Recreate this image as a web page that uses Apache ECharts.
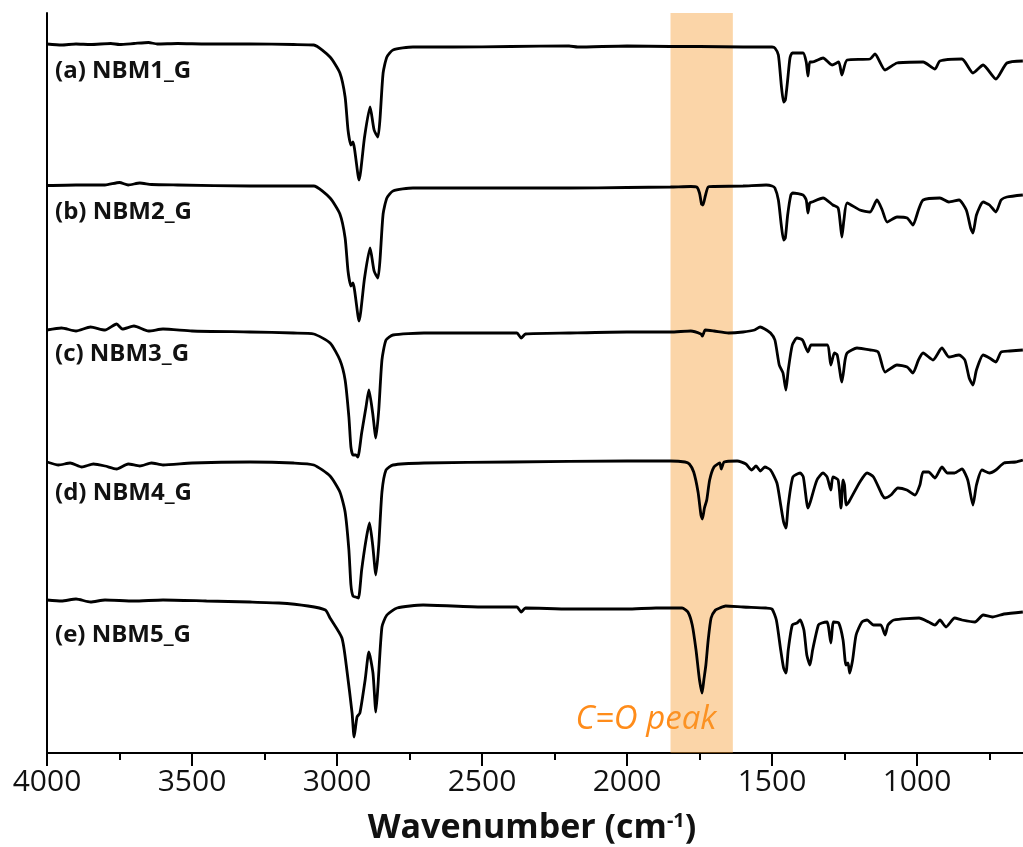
<!DOCTYPE html>
<html>
<head>
<meta charset="utf-8">
<script src="https://cdn.jsdelivr.net/npm/echarts@6/dist/echarts.min.js"></script>
<style>html,body{margin:0;padding:0;background:#fff}#c{width:1023px;height:847px}</style>
</head>
<body>
<div id="c"></div>
<script>
// Sample names
const sampleNames = ['(a) NBM1_G', '(b) NBM2_G', '(c) NBM3_G', '(d) NBM4_G', '(e) NBM5_G'];
// X axis ticks (wavenumber, cm-1)
const xTicks = [4000, 3500, 3000, 2500, 2000, 1500, 1000];
// C=O band (cm-1)
const coBand = [1850, 1635];
const coLabel = 'C=O peak';

// Spectra: [wavenumber (cm-1), transmittance (a.u., stacked)]
const specA = [[4000,70.9],[3950,70.8],[3900,70.9],[3850,70.85],[3780,70.95],[3750,70.85],[3700,70.95],[3650,71.05],[3620,70.9],[3550,70.95],[3450,70.9],[3300,70.9],[3150,70.85],[3080,70.8],[3024,69.6],[2990,68.0],[2972,65.6],[2962,62.3],[2952,60.8],[2945,61.1],[2924,57.3],[2905,61.6],[2886,64.6],[2872,62.3],[2859,61.6],[2852,63.3],[2841,68.0],[2828,69.6],[2807,70.3],[2738,70.6],[2600,70.6],[2400,70.65],[2200,70.7],[2170,70.6],[2000,70.7],[1850,70.65],[1750,70.65],[1600,70.6],[1500,70.6],[1490,70.5],[1478,69.8],[1468,66.8],[1460,65.1],[1454,65.3],[1446,67.3],[1438,69.5],[1430,70.0],[1393,70.0],[1382,69.1],[1376,67.7],[1370,69.1],[1362,69.1],[1324,69.5],[1293,68.8],[1270,69.1],[1259,67.8],[1241,69.3],[1162,69.4],[1145,69.9],[1110,68.3],[1069,69.0],[979,69.1],[938,68.4],[921,69.2],[845,69.4],[807,68.0],[772,68.8],[728,67.4],[690,69.0],[635,69.2]];
const specB = [[4000,56.75],[3900,56.8],[3800,56.8],[3750,57.05],[3720,56.8],[3680,57.0],[3640,56.85],[3550,56.8],[3300,56.7],[3100,56.7],[3080,56.7],[3024,55.5],[2990,53.9],[2972,51.5],[2962,48.2],[2952,46.7],[2945,47.0],[2924,43.2],[2905,47.5],[2886,50.5],[2872,48.2],[2859,47.5],[2852,49.2],[2841,53.9],[2828,55.5],[2807,56.2],[2738,56.5],[2600,56.5],[2400,56.5],[2200,56.5],[2000,56.55],[1850,56.6],[1780,56.65],[1760,56.6],[1750,56.0],[1743,54.9],[1738,54.8],[1730,55.7],[1720,56.6],[1700,56.65],[1600,56.7],[1520,56.8],[1500,56.7],[1490,56.5],[1478,55.3],[1468,52.8],[1460,51.3],[1454,51.5],[1446,53.8],[1435,55.8],[1428,56.0],[1393,55.8],[1382,55.3],[1376,54.0],[1370,55.0],[1362,55.1],[1324,55.5],[1290,54.8],[1272,54.5],[1264,52.8],[1259,51.6],[1252,53.3],[1241,55.0],[1197,54.3],[1162,54.1],[1138,55.3],[1120,54.3],[1103,53.1],[1069,53.6],[1034,53.5],[1014,52.8],[995,54.3],[979,55.3],[921,55.5],[890,55.1],[855,55.3],[830,54.3],[815,52.5],[807,52.0],[795,53.8],[772,55.1],[750,54.8],[728,54.1],[710,55.3],[690,55.6],[635,55.8]];
const specC = [[4000,42.3],[3950,42.5],[3900,42.2],[3850,42.6],[3800,42.3],[3760,42.9],[3740,42.4],[3700,42.7],[3650,42.2],[3600,42.4],[3500,42.2],[3300,42.1],[3150,42.0],[3080,41.9],[3024,41.0],[2990,39.3],[2972,37.3],[2959,33.6],[2952,30.6],[2945,29.8],[2935,29.8],[2928,29.6],[2915,32.0],[2900,34.6],[2890,36.3],[2877,34.0],[2866,31.5],[2856,34.3],[2845,39.3],[2831,41.3],[2807,41.8],[2700,42.0],[2500,42.0],[2380,42.0],[2365,41.5],[2350,41.9],[2200,42.0],[2000,42.1],[1850,42.1],[1780,42.2],[1745,41.9],[1740,41.7],[1730,42.3],[1700,42.2],[1650,42.0],[1600,42.1],[1560,42.3],[1541,42.6],[1525,42.4],[1505,42.0],[1490,41.3],[1475,38.8],[1462,38.0],[1452,36.3],[1444,38.3],[1430,40.8],[1414,41.5],[1395,41.3],[1383,40.5],[1376,40.1],[1365,40.8],[1310,40.8],[1297,38.8],[1285,40.0],[1275,39.8],[1259,37.1],[1248,39.3],[1241,40.0],[1207,40.5],[1162,40.3],[1134,40.1],[1110,38.1],[1069,38.8],[1034,38.6],[1014,38.0],[995,39.3],[979,40.0],[945,39.3],[914,40.5],[890,39.6],[855,39.8],[835,39.3],[820,37.5],[807,36.8],[795,38.3],[772,39.8],[750,39.5],[728,39.1],[710,40.1],[680,40.2],[635,40.3]];
const specD = [[4000,29.1],[3960,28.8],[3920,29.0],[3880,28.6],[3840,28.9],[3800,28.7],[3760,28.4],[3720,28.9],[3680,28.7],[3640,29.0],[3600,28.8],[3500,29.0],[3300,29.1],[3150,29.0],[3080,28.8],[3024,27.7],[2990,26.1],[2972,24.1],[2959,20.3],[2952,16.8],[2945,15.7],[2935,15.6],[2926,15.5],[2915,18.3],[2900,21.3],[2888,23.0],[2877,20.8],[2866,17.8],[2856,20.8],[2845,26.1],[2831,28.3],[2807,28.8],[2700,29.0],[2400,29.1],[2000,29.2],[1850,29.2],[1800,29.1],[1785,28.9],[1770,28.1],[1755,26.1],[1745,23.8],[1740,23.4],[1733,24.5],[1725,25.3],[1715,27.3],[1700,28.6],[1680,29.0],[1675,28.4],[1665,29.1],[1620,29.2],[1590,28.9],[1570,28.3],[1555,28.7],[1540,28.2],[1525,28.6],[1505,28.3],[1483,27.0],[1470,24.8],[1460,23.1],[1452,22.5],[1444,24.8],[1428,27.6],[1403,28.0],[1392,27.6],[1376,24.5],[1368,25.1],[1345,27.3],[1324,28.0],[1310,27.6],[1297,26.3],[1290,27.6],[1272,27.3],[1262,24.5],[1255,27.3],[1250,26.8],[1244,24.8],[1235,25.1],[1197,27.1],[1172,28.0],[1150,27.6],[1120,25.8],[1110,25.5],[1090,25.8],[1066,26.5],[1035,26.3],[1007,25.8],[990,26.8],[979,28.1],[960,28.1],[938,27.5],[914,28.6],[895,28.0],[870,28.0],[845,28.4],[825,27.3],[807,24.8],[795,26.8],[776,28.3],[750,28.0],[728,28.3],[700,29.0],[660,29.1],[635,29.3]];
const specE = [[4000,15.3],[3950,15.2],[3900,15.4],[3850,15.1],[3800,15.3],[3700,15.2],[3600,15.3],[3450,15.2],[3300,15.1],[3200,15.0],[3100,14.7],[3040,14.3],[3024,13.5],[2983,11.5],[2966,8.3],[2948,4.0],[2941,1.6],[2931,3.6],[2921,4.0],[2903,7.3],[2890,10.1],[2876,8.0],[2866,4.1],[2859,6.6],[2845,12.6],[2828,13.8],[2793,14.5],[2703,14.8],[2500,14.6],[2380,14.6],[2365,14.1],[2350,14.5],[2200,14.4],[2000,14.4],[1900,14.5],[1850,14.5],[1810,14.5],[1790,14.1],[1775,12.8],[1762,10.3],[1750,7.3],[1741,6.0],[1735,7.3],[1728,8.8],[1720,11.3],[1710,13.5],[1695,14.3],[1680,14.5],[1660,14.7],[1600,14.6],[1520,14.5],[1500,14.4],[1485,13.3],[1470,10.3],[1460,8.5],[1452,8.0],[1444,10.3],[1430,12.8],[1414,13.0],[1403,13.3],[1390,12.3],[1380,9.8],[1369,8.8],[1360,10.3],[1340,12.8],[1328,13.0],[1310,13.1],[1297,11.0],[1288,13.1],[1270,13.0],[1255,11.3],[1245,8.8],[1238,9.0],[1232,8.0],[1222,9.3],[1210,11.8],[1190,13.1],[1172,13.3],[1150,12.8],[1125,12.8],[1110,11.8],[1100,12.8],[1080,13.3],[993,13.5],[960,13.1],[938,12.8],[921,13.3],[900,12.6],[870,13.5],[845,13.3],[800,13.1],[772,13.8],[740,13.6],[700,13.9],[635,14.1]];
const spectra = [specA, specB, specC, specD, specE];

const chart = echarts.init(document.getElementById('c'), null, {renderer: 'canvas'});
const series = spectra.map((d, i) => ({
  name: sampleNames[i], type: 'line', data: d, showSymbol: false, symbol: 'none',
  smooth: 0.2, lineStyle: {color: '#000', width: 2.8}, z: 2, silent: true
}));
series.push({
  type: 'line', data: [], z: 5, silent: true,
  markArea: {silent: true, itemStyle: {color: 'rgba(245,155,47,0.42)'}, data: [[{xAxis: coBand[0]}, {xAxis: coBand[1]}]]}
});
const font = '"Open Sans", sans-serif';
chart.setOption({
  animation: false,
  grid: {left: 47, right: -39, top: 13, bottom: 94, outerBoundsMode: 'none', containLabel: false},
  xAxis: [{
    type: 'value', inverse: true, min: 500, max: 4000, interval: 500, position: 'bottom',
    axisLine: {lineStyle: {color: '#000', width: 2}, onZero: false},
    axisTick: {inside: false, length: 13, lineStyle: {color: '#000', width: 2}},
    minorTick: {show: true, splitNumber: 2, length: 7, lineStyle: {color: '#000', width: 2}},
    splitLine: {show: false},
    axisLabel: {color: '#111', fontSize: 30, fontFamily: font, margin: 14,
      formatter: v => xTicks.indexOf(v) >= 0 ? String(v) : ''}
  }, {
    type: 'value', inverse: true, min: 500, max: 4000, position: 'top',
    axisLine: {lineStyle: {color: '#000', width: 2}}, axisTick: {show: false},
    axisLabel: {show: false}, splitLine: {show: false}
  }],
  yAxis: {
    type: 'value', min: 0, max: 74,
    axisLine: {show: true, lineStyle: {color: '#000', width: 2}},
    axisTick: {show: false}, axisLabel: {show: false}, splitLine: {show: false}
  },
  series: series,
  graphic: [
    ...sampleNames.map((n, i) => ({
      type: 'text', left: 55, top: [59, 200, 342, 481, 623][i],
      style: {text: n, fontSize: 24, fontWeight: 'bold', fontFamily: font, fill: '#111'}
    })),
    {type: 'text', x: 646, y: 720, style: {text: coLabel, fontSize: 33, fontStyle: 'italic',
      fontFamily: font, fill: '#ff8c1a', align: 'center', verticalAlign: 'middle'}},
    {type: 'text', x: 532, y: 828, style: {
      text: '{m|Wavenumber (cm}{s|-1}{m|)}', align: 'center', verticalAlign: 'middle',
      rich: {
        m: {fontSize: 34, fontWeight: 'bold', fontFamily: font, fill: '#111'},
        s: {fontSize: 20, fontWeight: 'bold', fontFamily: font, fill: '#111', verticalAlign: 'top', padding: [0,0,14,0]}
      }}}
  ]
});
</script>
</body>
</html>
